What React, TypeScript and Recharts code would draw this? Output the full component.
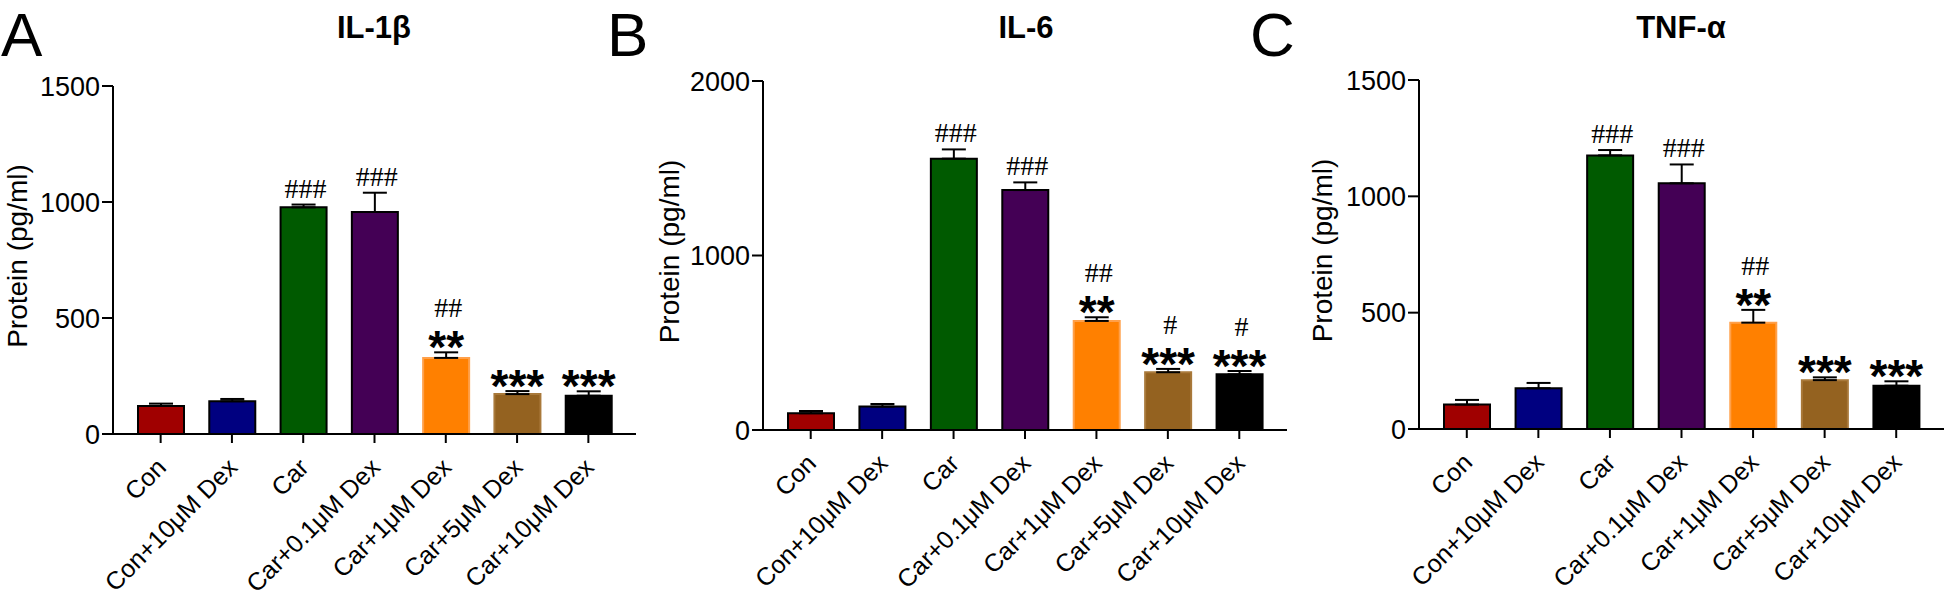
import React from 'react';
import { BarChart, Bar, XAxis, YAxis, ErrorBar, Cell, LabelList } from 'recharts';

const GROUPS = ['Con', 'Con+10μM Dex', 'Car', 'Car+0.1μM Dex', 'Car+1μM Dex', 'Car+5μM Dex', 'Car+10μM Dex'];

const FILLS = ['#a00000', '#000080', '#005a00', '#440055', '#ff8000', '#946220', '#000000'];
const EDGES = ['#000', '#000', '#000', '#000', '#ffa04a', '#a9793a', '#000'];

const IL1B = [121, 141, 977, 957, 328, 172, 165];
const IL1B_SEM = [10, 10, 12, 83, 24, 13, 19];
const IL1B_HASH = ['', '', '###', '###', '##', '', ''];
const IL1B_STAR = ['', '', '', '', '**', '***', '***'];

const IL6 = [96, 134, 1555, 1375, 625, 331, 319];
const IL6_SEM = [13, 15, 53, 44, 21, 19, 19];
const IL6_HASH = ['', '', '###', '###', '##', '#', '#'];
const IL6_STAR = ['', '', '', '', '**', '***', '***'];

const TNF = [105, 175, 1176, 1056, 457, 210, 186];
const TNF_SEM = [20, 23, 23, 81, 55, 12, 19];
const TNF_HASH = ['', '', '###', '###', '##', '', ''];
const TNF_STAR = ['', '', '', '', '**', '***', '***'];

const TICKS_1500 = [0, 500, 1000, 1500];
const TICKS_2000 = [0, 1000, 2000];

const SANS = "'Liberation Sans', Arial, Helvetica, sans-serif";
const SERIF = "'Liberation Serif', 'Times New Roman', serif";

const SlantTick = (p: any) => {
  const { x, y, payload } = p;
  return (
    <text
      transform={`translate(${x + 7},${y + 26}) rotate(-45)`}
      textAnchor="end"
      fontSize={25}
      fill="#000"
      fontFamily={SANS}
    >
      {payload.value}
    </text>
  );
};

type PanelProps = {
  left: number;
  width: number;
  top: number;
  axisY: number;
  right: number;
  yAxisWidth: number;
  labelDx: number;
  yMax: number;
  ticks: number[];
  values: number[];
  sems: number[];
  hashes: string[];
  stars: string[];
};

const Panel = ({ left, width, top, axisY, right, yAxisWidth, labelDx, yMax, ticks, values, sems, hashes, stars }: PanelProps) => {
  const rows = GROUPS.map((name, i) => ({ name, value: values[i], sem: [0, sems[i]], idx: i }));

  // marks above each bar, stacked over the top of the error bar
  const renderNote = (p: any) => {
    const { x, y, width: w, height, value } = p;
    const i = Number(value);
    const errTop = y - (sems[i] * height) / values[i];
    const cx = x + w / 2;
    const star = stars[i];
    const hash = hashes[i];
    return (
      <g>
        {star && (
          <text x={cx} y={errTop + 11} textAnchor="middle" fontSize={46} fontWeight="bold" fontFamily={SANS} fill="#000">
            {star}
          </text>
        )}
        {hash && (
          <text x={cx + 2} y={star ? errTop - 35 : errTop - 7} textAnchor="middle" fontSize={28} fontFamily={SERIF} fill="#000">
            {hash}
          </text>
        )}
      </g>
    );
  };

  return (
    <div style={{ position: 'absolute', left, top: 0 }}>
      <BarChart width={width} height={598} data={rows} margin={{ top, right, bottom: 0, left: 0 }}>
        <XAxis
          dataKey="name"
          height={598 - axisY}
          padding={{ left: 12, right: 12 }}
          interval={0}
          tick={<SlantTick />}
          tickSize={9}
          tickMargin={0}
          axisLine={{ stroke: '#000', strokeWidth: 2 }}
          tickLine={{ stroke: '#000', strokeWidth: 2 }}
        />
        <YAxis
          width={yAxisWidth}
          domain={[0, yMax]}
          ticks={ticks}
          interval={0}
          tickSize={11}
          tickMargin={2}
          tick={{ fontSize: 27, fill: '#000', fontFamily: SANS }}
          axisLine={{ stroke: '#000', strokeWidth: 2 }}
          tickLine={{ stroke: '#000', strokeWidth: 2 }}
          label={{
            content: (lp: any) => {
              const vb = lp.viewBox;
              const cx = vb.x + labelDx;
              const cy = vb.y + vb.height / 2 - 4;
              return (
                <text
                  transform={`translate(${cx},${cy}) rotate(-90)`}
                  textAnchor="middle"
                  dominantBaseline="central"
                  fontSize={28}
                  fontFamily={SANS}
                  fill="#000"
                >
                  Protein (pg/ml)
                </text>
              );
            },
          }}
        />
        <Bar dataKey="value" barSize={46} strokeWidth={2} isAnimationActive={false}>
          {rows.map((r, i) => (
            <Cell key={r.name} fill={FILLS[i]} stroke={EDGES[i]} />
          ))}
          <ErrorBar dataKey="sem" width={12} strokeWidth={2} stroke="#000" direction="y" />
          <LabelList dataKey="idx" content={renderNote} />
        </Bar>
      </BarChart>
    </div>
  );
};

const App = () => {
  return (
    <div style={{ position: 'absolute', left: 0, top: 0, width: 1946, height: 598, background: '#fff', overflow: 'hidden' }}>
      <Panel
        left={0}
        width={650}
        top={86}
        axisY={434}
        right={14}
        yAxisWidth={113}
        labelDx={17}
        yMax={1500}
        ticks={TICKS_1500}
        values={IL1B}
        sems={IL1B_SEM}
        hashes={IL1B_HASH}
        stars={IL1B_STAR}
      />
      <Panel
        left={650}
        width={650}
        top={81}
        axisY={430}
        right={13}
        yAxisWidth={113}
        labelDx={19}
        yMax={2000}
        ticks={TICKS_2000}
        values={IL6}
        sems={IL6_SEM}
        hashes={IL6_HASH}
        stars={IL6_STAR}
      />
      <Panel
        left={1300}
        width={646}
        top={80}
        axisY={429}
        right={2}
        yAxisWidth={119}
        labelDx={22}
        yMax={1500}
        ticks={TICKS_1500}
        values={TNF}
        sems={TNF_SEM}
        hashes={TNF_HASH}
        stars={TNF_STAR}
      />
      <svg width={1946} height={598} style={{ position: 'absolute', left: 0, top: 0, pointerEvents: 'none' }}>
        <g fontFamily={SANS} fill="#000">
          <text x={1} y={56} fontSize={62}>A</text>
          <text x={607} y={56} fontSize={62}>B</text>
          <text x={1250} y={56} fontSize={62}>C</text>
          <text x={374} y={38} fontSize={31} fontWeight="bold" textAnchor="middle">IL-1β</text>
          <text x={1026} y={38} fontSize={31} fontWeight="bold" textAnchor="middle">IL-6</text>
          <text x={1681} y={38} fontSize={31} fontWeight="bold" textAnchor="middle">TNF-α</text>
        </g>
      </svg>
    </div>
  );
};

export default App;
